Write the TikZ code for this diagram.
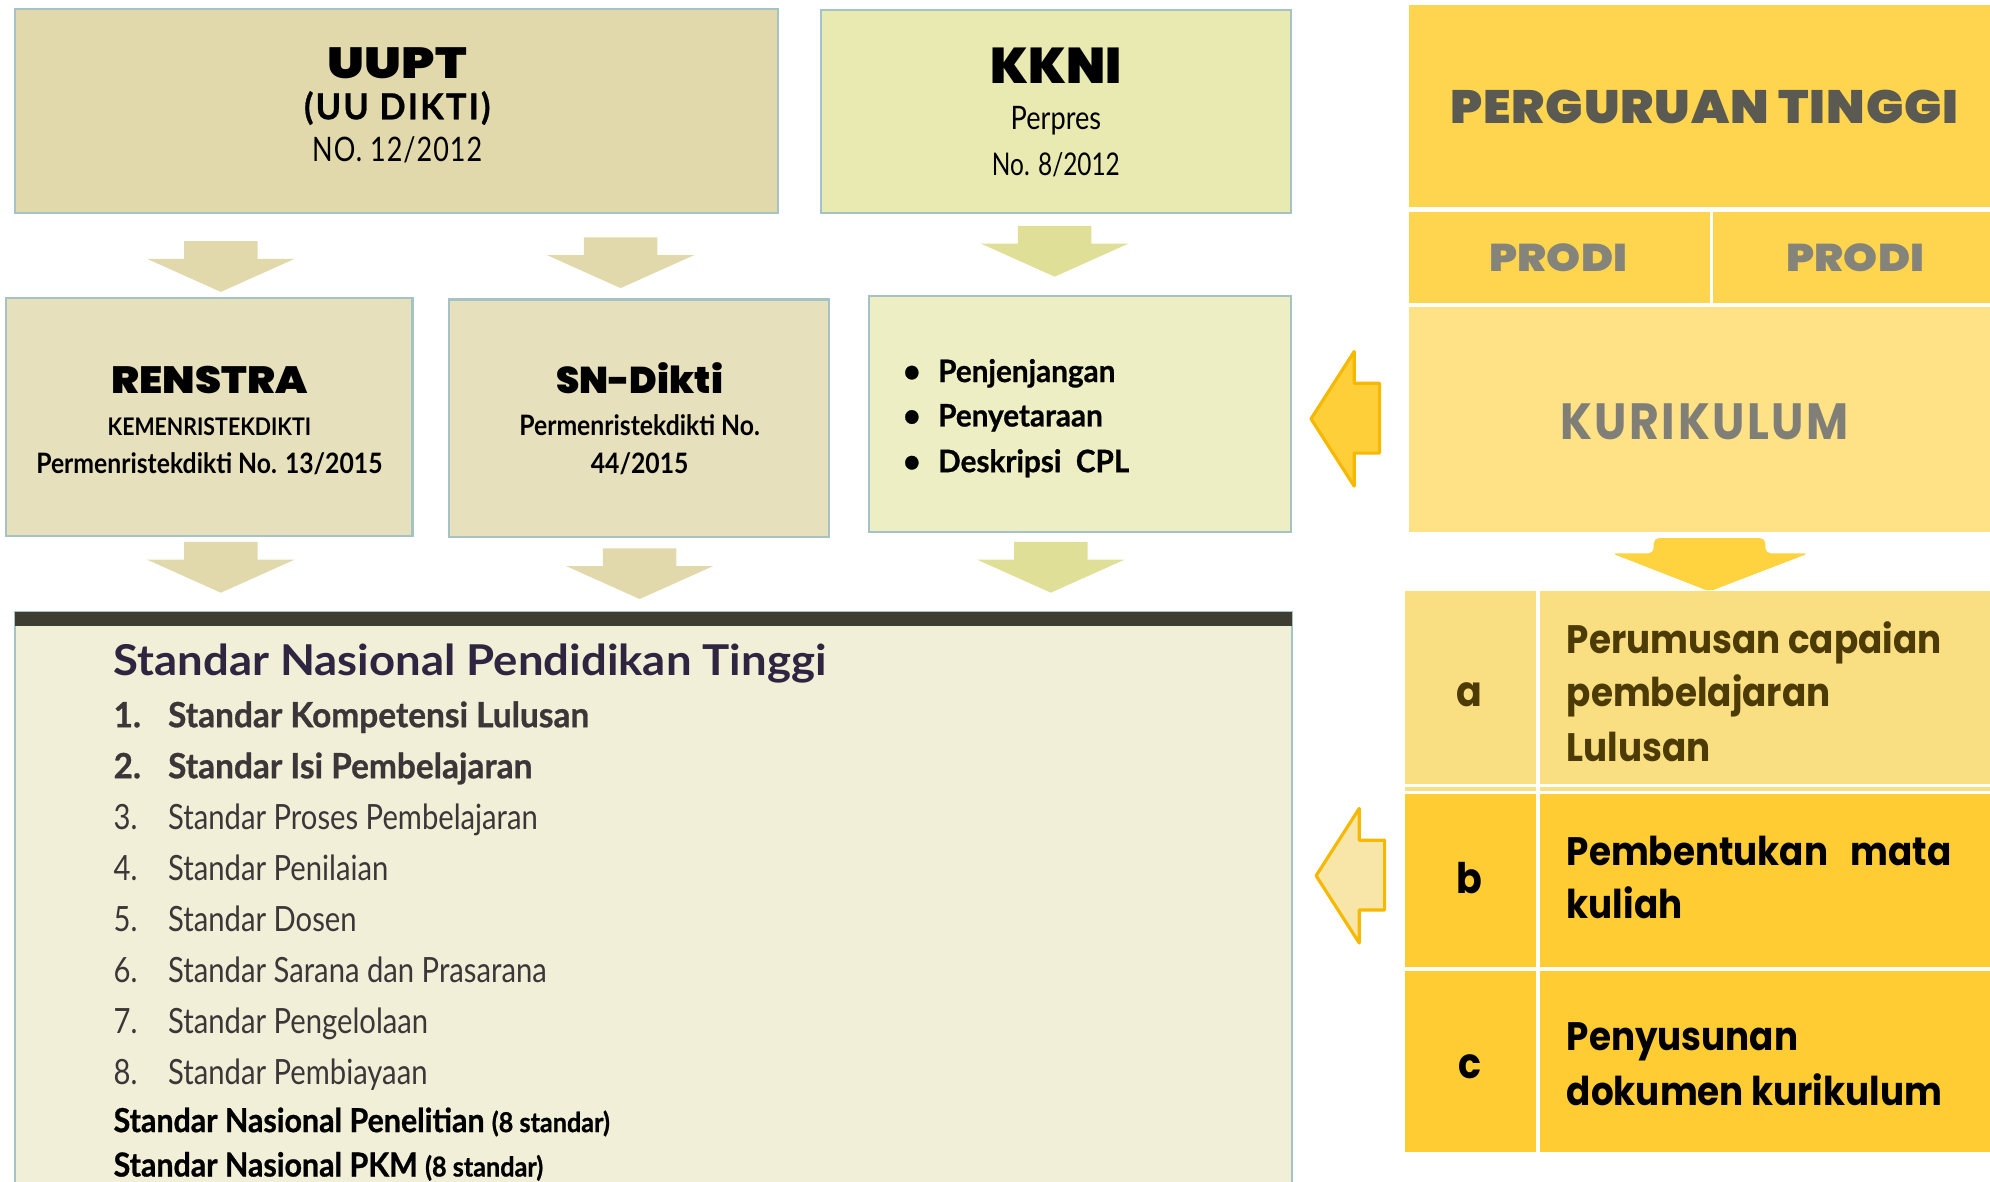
\documentclass[tikz,border=0pt]{standalone}
\usepackage{fontspec}
\usetikzlibrary{positioning}
\setmainfont{Lato}
\newfontfamily\condfont{Lato}[FakeStretch=0.84]
\newfontfamily\condbold{Lato}[FakeStretch=0.96,BoldFeatures={FakeBold=0.8}]
\newfontfamily\boxfont{Lato}[FakeStretch=0.88]
\newfontfamily\headfont{Lato}[FakeStretch=1.07]
\newfontfamily\futfont{Poppins}[FakeStretch=0.9]
\newfontfamily\blackfont{Poppins Black}

\definecolor{uuptfill}{HTML}{E1D9AB}
\definecolor{kknifill}{HTML}{E9E9B2}
\definecolor{renfill}{HTML}{E7E0BD}
\definecolor{itemfill}{HTML}{EEEEC4}
\definecolor{boxline}{HTML}{A5C3C5}
\definecolor{arrowtan}{HTML}{E1D9AB}
\definecolor{arrowgreen}{HTML}{E0DF97}
\definecolor{snfill}{HTML}{F1EFD7}
\definecolor{snbar}{HTML}{3D3E31}
\definecolor{headcol}{HTML}{2E2540}
\definecolor{itemcol}{HTML}{3B3638}
\definecolor{ptfill}{HTML}{FFD54F}
\definecolor{kurfill}{HTML}{FFE186}
\definecolor{pttext}{HTML}{5A5A52}
\definecolor{proditext}{HTML}{85847A}
\definecolor{kurtext}{HTML}{807F77}
\definecolor{rowafill}{HTML}{FADF82}
\definecolor{rowatext}{HTML}{4C3B05}
\definecolor{rowbfill}{HTML}{FFCD33}
\definecolor{yelarrow}{HTML}{FFD33F}
\definecolor{larrowa}{HTML}{FFCF3A}
\definecolor{larrowb}{HTML}{F8E6A8}
\definecolor{larrowline}{HTML}{F6B800}

\tikzset{
  pics/downblk/.style={code={
    \fill (-29,0) -- (29,0) -- (29,14) -- (58,14) -- (0,40) -- (-58,14) -- (-29,14) -- cycle;}},
  pics/leftblk/.style={code={
    \filldraw[line width=0.9pt,line join=round] (0,0) -- (34,-53) -- (34,-28) -- (54,-28)
      -- (54,27) -- (34,27) -- (34,53) -- cycle;}},
}

\begin{document}
\begin{tikzpicture}[x=0.0126913cm,y=-0.0126913cm,
  box/.style={draw=boxline,line width=0.6pt},
  txt/.style={inner sep=0pt,anchor=base},
  bigt/.style={txt,font=\blackfont\fontsize{11.6}{12}\selectfont},
  condb/.style={txt,font=\boxfont\bfseries\fontsize{8}{9}\selectfont},
  itemb/.style={inner sep=0pt,anchor=base west,text=itemcol,font=\condbold\bfseries\fontsize{9.9}{11}\selectfont},
  itemr/.style={inner sep=0pt,anchor=base west,text=itemcol,font=\condfont\fontsize{9.9}{11}\selectfont},
  rowt/.style={inner sep=0pt,anchor=base west,font=\futfont\bfseries\fontsize{11.3}{12}\selectfont},
  letter/.style={txt,font=\futfont\bfseries\fontsize{12}{13}\selectfont}]
  \useasboundingbox (0,0) rectangle (1568,931);

  % top row: UUPT and KKNI
  \draw[box,fill=uuptfill] (12,7) rectangle (613,168);
  \draw[box,fill=kknifill] (647,8) rectangle (1017,168);
  \node[bigt,font=\blackfont\fontsize{12.4}{13}\selectfont\addfontfeatures{FakeStretch=1.18}] (uupt) at (313,62) {UUPT};
  \node[txt,font=\condbold\bfseries\fontsize{10.2}{11}\selectfont\addfontfeatures{LetterSpace=6}] (uudikti) at (313,94) {(UU DIKTI)};
  \node[txt,font=\condfont\fontsize{9.6}{10}\selectfont\addfontfeatures{FakeStretch=0.8,LetterSpace=3}] (uuno) at (313,127) {NO. 12/2012};
  \node[bigt,font=\blackfont\fontsize{14.3}{15}\selectfont] (kkni) at (832,65.7) {KKNI};
  \node[txt,font=\condfont\fontsize{9.2}{10}\selectfont] (perpres) at (832,102) {Perpres};
  \node[txt,font=\condfont\fontsize{8.9}{10}\selectfont\addfontfeatures{FakeStretch=0.78}] (perpresno) at (832,138) {No. 8/2012};

  \pic[fill=arrowtan] at (174,190) {downblk};
  \pic[fill=arrowtan] at (489,187) {downblk};
  \pic[fill=arrowgreen] at (831,178) {downblk};

  % middle row
  \draw[box,fill=renfill] (5,235) rectangle (325,422);
  \draw[box,fill=renfill] (354,236) rectangle (653,423);
  \draw[box,fill=itemfill] (685,233) rectangle (1017,419);
  \node[bigt,font=\blackfont\fontsize{10.8}{11}\selectfont\addfontfeatures{FakeStretch=1.1}] (renstra) at (165,310) {RENSTRA};
  \node[condb,font=\boxfont\bfseries\fontsize{6.9}{8}\selectfont] (kemen) at (165,343) {KEMENRISTEKDIKTI};
  \node[condb] (renno) at (165,373) {Permenristekdikti No. 13/2015};
  \node[bigt,font=\blackfont\fontsize{10.6}{11}\selectfont] (sndikti) at (504,310) {SN-Dikti};
  \node[condb] (snperm) at (504,343) {Permenristekdikti No.};
  \node[condb] (snno) at (504,373) {44/2015};
  \foreach \n/\t/\yb in {1/Penjenjangan/301, 2/Penyetaraan/336, 3/Deskripsi\ \ CPL/372}
    \node[inner sep=0pt,anchor=base west,font=\condbold\bfseries\fontsize{8.8}{10}\selectfont] (kk\n) at (711,\yb)
      {\makebox[10pt][l]{\fontsize{9}{9}\selectfont\textbullet}\t};

  \pic[fill=arrowtan] at (174,427) {downblk};
  \pic[fill=arrowtan] at (504,432) {downblk};
  \pic[fill=arrowgreen] at (828,427) {downblk};

  % standar nasional box
  \fill[snfill] (12,482) rectangle (1018,931);
  \draw[boxline,line width=0.6pt] (12,931) -- (12,482) -- (1018,482) -- (1018,931);
  \fill[snbar] (12,482) rectangle (1018,493);
  \node[inner sep=0pt,anchor=base west,text=headcol,font=\headfont\bfseries\fontsize{12.1}{13}\selectfont] (snpt) at (89,532)
    {Standar Nasional Pendidikan Tinggi};
  \foreach \n/\s/\t in {1/itemb/Standar Kompetensi Lulusan, 2/itemb/Standar Isi Pembelajaran,
      3/itemr/Standar Proses Pembelajaran, 4/itemr/Standar Penilaian, 5/itemr/Standar Dosen,
      6/itemr/Standar Sarana dan Prasarana, 7/itemr/Standar Pengelolaan, 8/itemr/Standar Pembiayaan}
    \node[\s] (std\n) at (89,{573+40.2*(\n-1)}) {\makebox[15.5pt][l]{\n.}\t};
  \node[itemb,text=black,font=\condbold\bfseries\fontsize{9.4}{10}\selectfont\addfontfeatures{FakeStretch=0.92}] (snpen) at (89,892)
    {Standar Nasional Penelitian {\fontsize{7.8}{8}\selectfont(8 standar)}};
  \node[itemb,text=black,font=\condbold\bfseries\fontsize{9.4}{10}\selectfont\addfontfeatures{FakeStretch=0.92}] (snpkm) at (89,927)
    {Standar Nasional PKM {\fontsize{7.8}{8}\selectfont(8 standar)}};

  % perguruan tinggi column
  \fill[ptfill] (1110,4) rectangle (1568,163);
  \fill[ptfill] (1110,167) rectangle (1347,239);
  \fill[ptfill] (1350,167) rectangle (1568,239);
  \fill[kurfill] (1110,242) rectangle (1568,419);
  \node[bigt,text=pttext,font=\blackfont\fontsize{13.3}{14}\selectfont\addfontfeatures{FakeStretch=1.06,LetterSpace=2}] (pt) at (1343,97) {PERGURUAN TINGGI};
  \node[bigt,text=proditext,font=\blackfont\fontsize{11}{12}\selectfont\addfontfeatures{FakeStretch=1.12}] (prodia) at (1228,214) {PRODI};
  \node[bigt,text=proditext,font=\blackfont\fontsize{11}{12}\selectfont\addfontfeatures{FakeStretch=1.12}] (prodib) at (1462,214) {PRODI};
  \node[txt,text=kurtext,font=\futfont\bfseries\fontsize{14.5}{15}\selectfont\addfontfeatures{LetterSpace=5}] (kur) at (1343,346) {KURIKULUM};
  \fill[yelarrow,rounded corners=1.5pt] (1303,424) -- (1391,424) -- (1391,436) -- (1425,436)
    -- (1347,466) -- (1270,436) -- (1303,436) -- cycle;

  % tabel langkah
  \fill[rowafill] (1107,466) rectangle (1568,623);
  \draw[white,line width=0.8pt] (1107,619) -- (1568,619);
  \fill[rowbfill] (1107,626) rectangle (1568,762);
  \fill[rowbfill] (1107,765) rectangle (1568,908);
  \draw[white,line width=1.1pt] (1212,466) -- (1212,908);
  \node[letter,text=rowatext] (la) at (1158,557) {a};
  \node[letter] (lb) at (1158,704) {b};
  \node[letter] (lc) at (1158,850) {c};
  \node[rowt,text=rowatext] (ta1) at (1234,514.6) {Perumusan capaian};
  \node[rowt,text=rowatext] (ta2) at (1234,557) {pembelajaran};
  \node[rowt,text=rowatext] (ta3) at (1234,600) {Lulusan};
  \node[rowt] (tb1) at (1234,682) {\makebox[109.5pt][s]{Pembentukan\hfill mata}};
  \node[rowt] (tb2) at (1234,724) {kuliah};
  \node[rowt] (tc1) at (1234,828) {Penyusunan};
  \node[rowt] (tc2) at (1234,871) {dokumen kurikulum};

  \pic[fill=larrowa,draw=larrowline] at (1033,330) {leftblk};
  \pic[fill=larrowb,draw=larrowline] at (1037,690) {leftblk};
\end{tikzpicture}
\end{document}
